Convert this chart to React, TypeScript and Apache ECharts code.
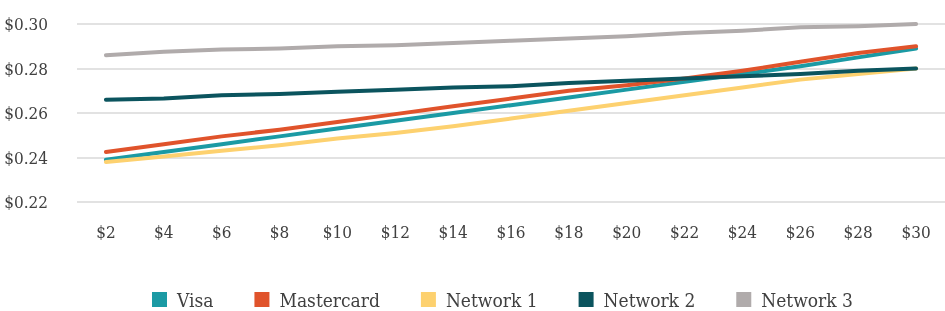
import React, { useEffect, useRef } from "react";
import * as echarts from "echarts";

const categories = ["$2", "$4", "$6", "$8", "$10", "$12", "$14", "$16", "$18", "$20", "$22", "$24", "$26", "$28", "$30"];
const visa = [0.239, 0.2425, 0.246, 0.2495, 0.253, 0.2565, 0.26, 0.2635, 0.267, 0.2705, 0.274, 0.2775, 0.281, 0.285, 0.289];
const mastercard = [0.2425, 0.246, 0.2495, 0.2525, 0.256, 0.2595, 0.263, 0.2665, 0.27, 0.2725, 0.2755, 0.279, 0.283, 0.287, 0.29];
const network1 = [0.238, 0.2405, 0.243, 0.2455, 0.2485, 0.251, 0.254, 0.2575, 0.261, 0.2645, 0.268, 0.2715, 0.275, 0.2775, 0.28];
const network2 = [0.266, 0.2665, 0.268, 0.2685, 0.2695, 0.2705, 0.2715, 0.272, 0.2735, 0.2745, 0.2755, 0.2765, 0.2775, 0.279, 0.28];
const network3 = [0.286, 0.2875, 0.2885, 0.289, 0.29, 0.2905, 0.2915, 0.2925, 0.2935, 0.2945, 0.296, 0.297, 0.2985, 0.299, 0.3];

const seriesDefs = [
  { name: "Visa", data: visa, color: "#1b9aa4" },
  { name: "Mastercard", data: mastercard, color: "#e0532b" },
  { name: "Network 1", data: network1, color: "#fdd16f" },
  { name: "Network 2", data: network2, color: "#0b545e" },
  { name: "Network 3", data: network3, color: "#b0abab" },
];

const FONT = "'DejaVu Serif Condensed', 'DejaVu Serif', serif";

export default function App() {
  const ref = useRef<HTMLDivElement>(null);
  useEffect(() => {
    if (!ref.current) return;
    const chart = echarts.init(ref.current, null, { renderer: "svg" });
    chart.setOption({
      animation: false,
      grid: { left: 77, right: -4, top: 24, bottom: 109 },
      legend: {
        bottom: 2,
        left: 152,
        padding: 0,
        icon: "rect",
        itemWidth: 15,
        itemHeight: 15,
        itemGap: 41,
        textStyle: { fontFamily: FONT, fontSize: 19, lineHeight: 16, color: "#404040", padding: [0, 0, 0, 5] },
        data: seriesDefs.map((s) => s.name),
      },
      xAxis: {
        type: "category",
        data: categories,
        boundaryGap: true,
        axisLine: { show: false },
        axisTick: { show: false },
        axisLabel: { fontFamily: FONT, fontSize: 17, color: "#404040", margin: 21 },
      },
      yAxis: {
        type: "value",
        min: 0.22,
        max: 0.3,
        interval: 0.02,
        axisLine: { show: false },
        axisTick: { show: false },
        splitLine: { lineStyle: { color: "#d9d9d9", width: 1.5 } },
        axisLabel: {
          fontFamily: FONT,
          fontSize: 17,
          color: "#404040",
          margin: 29,
          formatter: (v: number) => "$" + v.toFixed(2),
        },
      },
      series: seriesDefs.map((s) => ({
        name: s.name,
        type: "line",
        data: s.data,
        symbol: "none",
        itemStyle: { color: s.color },
        lineStyle: { color: s.color, width: 4, cap: "round", join: "round" },
      })),
    });
    return () => chart.dispose();
  }, []);
  return <div ref={ref} style={{ position: "fixed", left: 0, top: 0, width: 945, height: 311 }} />;
}
